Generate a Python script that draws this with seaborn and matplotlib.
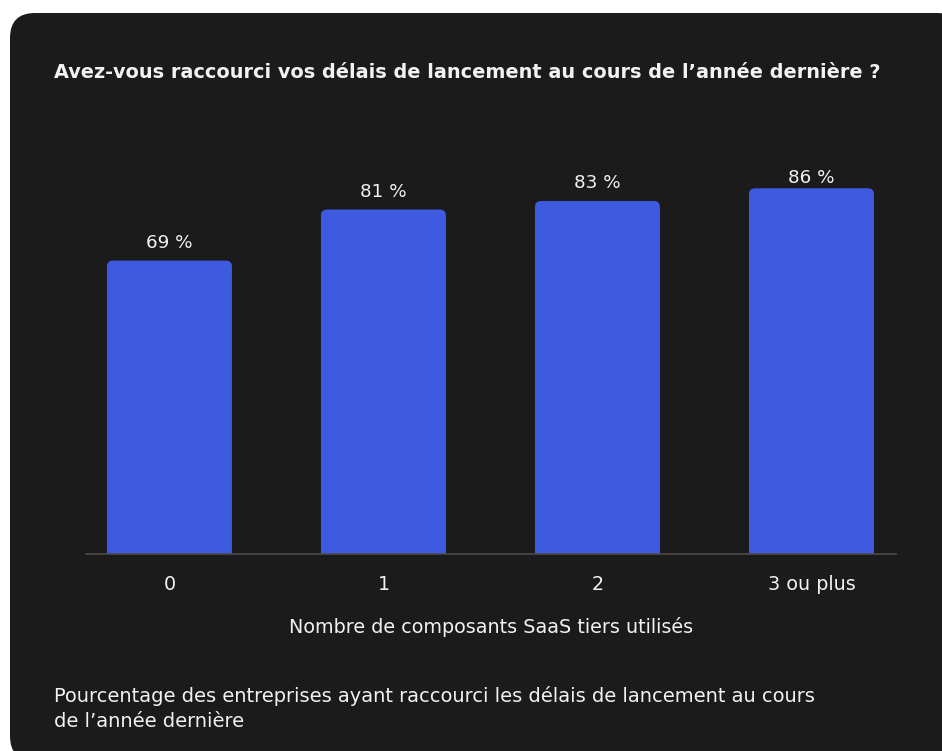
import matplotlib
matplotlib.use("Agg")
import matplotlib.pyplot as plt
import seaborn as sns
import pandas as pd
from matplotlib.patches import FancyBboxPatch

categories = ["0", "1", "2", "3 ou plus"]
values = [69, 81, 83, 86]
value_labels = ["69 %", "81 %", "83 %", "86 %"]
title = "Avez-vous raccourci vos délais de lancement au cours de l’année dernière ?"
xlabel = "Nombre de composants SaaS tiers utilisés"
footer = "Pourcentage des entreprises ayant raccourci les délais de lancement au cours\nde l’année dernière"

BG = "#1b1b1b"
BAR = "#3d5ae0"
TXT = "#f2f2f2"
FONT = ["DejaVu Sans"]

sns.set_theme(style="white")
plt.rcParams["font.family"] = FONT

W, H = 942, 751
fig = plt.figure(figsize=(W / 100, H / 100), dpi=100, facecolor="white")

# dark card
card = FancyBboxPatch((10 / W, -10 / H), (W + 20 - 10) / W, (H - 13 + 10) / H,
                      boxstyle=f"round,pad=0,rounding_size={25 / W}",
                      mutation_aspect=W / H, transform=fig.transFigure,
                      facecolor=BG, edgecolor="none", zorder=-10)
fig.patches.append(card)

ax = fig.add_axes([86 / W, (H - 554) / H, (896 - 86) / W, (554 - 150) / H])
ax.set_facecolor("none")
ax.set_zorder(5)

df = pd.DataFrame({"cat": categories, "val": values})
sns.barplot(data=df, x="cat", y="val", color=BAR, width=125 / 214, saturation=1, ax=ax)
ax.set_xlim(-0.39, 3.395)
ax.set_ylim(0, 95)

# round the top corners of the bars
px_x = (896 - 86) / (3.395 + 0.39)
px_y = (554 - 150) / 95
r = 6 / px_x
for p in list(ax.patches):
    x0, w, h = p.get_x(), p.get_width(), p.get_height()
    fb = FancyBboxPatch((x0, -3), w, h + 3,
                        boxstyle=f"round,pad=0,rounding_size={r}",
                        mutation_aspect=px_x / px_y,
                        facecolor=BAR, edgecolor="none", zorder=2)
    p.remove()
    ax.add_patch(fb)

# value labels: 18 px above the bar, but never above a ceiling
label_ceiling = (554 - 178) / px_y
vtexts = []
for i, (v, lab) in enumerate(zip(values, value_labels)):
    y = min(v + 18 / px_y, label_ceiling)
    t = ax.text(i, y, lab, ha="center", va="center", color=TXT, fontsize=12.5)
    vtexts.append(t)

for s in ["top", "right", "left"]:
    ax.spines[s].set_visible(False)
ax.spines["bottom"].set_color("#4d4b48")
ax.spines["bottom"].set_linewidth(1.2)
ax.set_yticks([])
ax.tick_params(axis="x", length=0, pad=15, labelsize=13, colors=TXT)
ax.set_ylabel("")
ax.set_xlabel(xlabel, color=TXT, fontsize=13, labelpad=17)

t_title = fig.text(54 / W, 1 - 73 / H, title, color=TXT, fontsize=13.5, fontweight="bold",
                   ha="left", va="center")
t_foot = fig.text(54 / W, 1 - 686 / H, footer, color=TXT, fontsize=13, ha="left", va="top",
                  linespacing=1.4)

# fit text sizes to measured widths in the reference
fig.canvas.draw()
r_ = fig.canvas.get_renderer()

def fit(t, target):
    w = t.get_window_extent(r_).width
    t.set_fontsize(t.get_fontsize() * target / w)

fit(t_title, 824)
fit(t_foot, 758)
fit(ax.xaxis.label, 403)
scale = 47 / vtexts[0].get_window_extent(r_).width
for t in vtexts:
    t.set_fontsize(t.get_fontsize() * scale)
lbls = ax.get_xticklabels()
w3 = lbls[3].get_window_extent(r_).width
fs = lbls[3].get_fontsize() * 88 / w3
ax.tick_params(axis="x", labelsize=fs)

fig.savefig("out.png", dpi=100, facecolor="white")
